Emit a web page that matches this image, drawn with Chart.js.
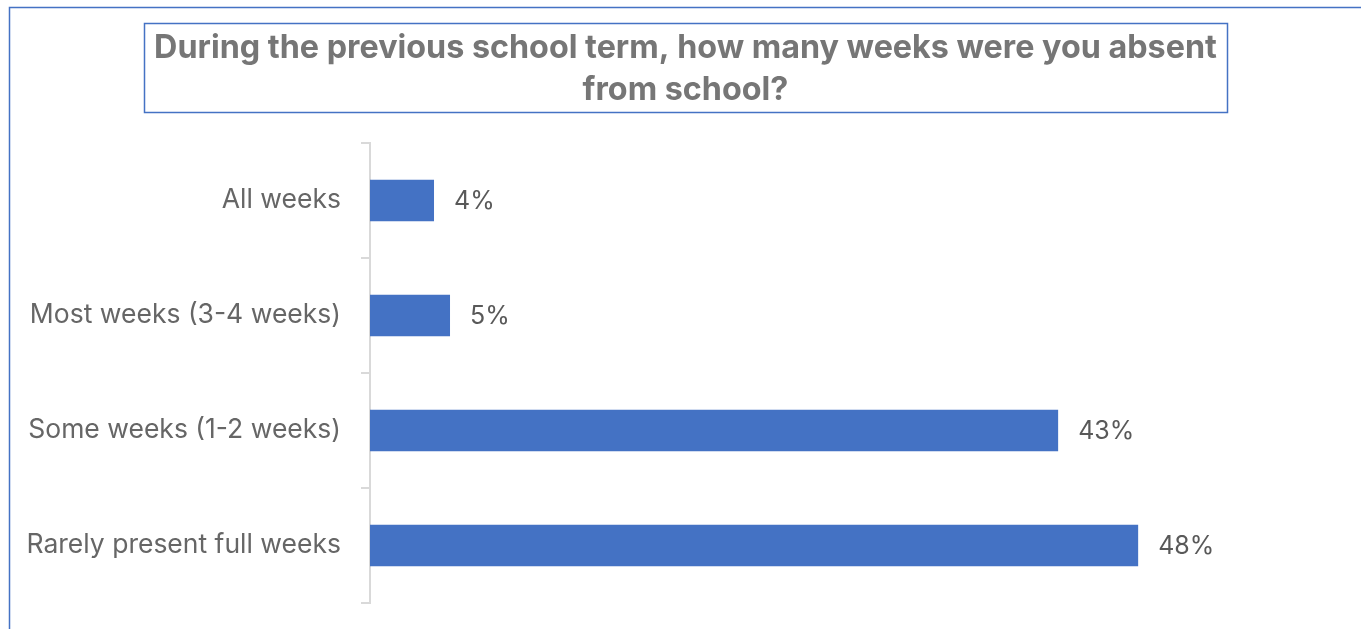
<!DOCTYPE html>
<html>
<head>
<meta charset="utf-8">
<title>Weeks absent from school</title>
<script src="https://cdn.jsdelivr.net/npm/chart.js@4"></script>
<style>
  html, body { margin: 0; padding: 0; background: #ffffff; }
  #wrap { position: relative; width: 1361px; height: 629px; }
</style>
</head>
<body>
<div id="wrap"><canvas id="absenceChart" width="1361" height="629"></canvas></div>
<script>
// Survey answers, top to bottom
const categories = [
    'All weeks',
    'Most weeks (3-4 weeks)',
    'Some weeks (1-2 weeks)',
    'Rarely present full weeks'
];
const shares = [4, 5, 43, 48];   // percent of respondents
const titleLines = [
    'During the previous school term, how many weeks were you absent',
    'from school?'
];

const BLUE = '#4472C4';
const AXIS_GREY = '#d9d9d9';
const FONT = 'Inter, "Liberation Sans", Arial, sans-serif';

// Frame around the whole chart plus the box around the title
const framePlugin = {
    id: 'frames',
    afterDraw(chart) {
        const ctx = chart.ctx;
        ctx.save();
        ctx.strokeStyle = BLUE;
        ctx.lineWidth = 1.5;
        // outer frame (left and top edges visible)
        ctx.beginPath();
        ctx.moveTo(9.5, chart.height + 5);
        ctx.lineTo(9.5, 7.5);
        ctx.lineTo(chart.width + 5, 7.5);
        ctx.stroke();
        // title box
        ctx.strokeRect(144.5, 23.5, 1083, 89);
        ctx.restore();
    }
};

// Percent labels to the right of each bar
const valueLabels = {
    id: 'valueLabels',
    afterDatasetsDraw(chart) {
        const ctx = chart.ctx;
        const meta = chart.getDatasetMeta(0);
        ctx.save();
        ctx.font = '25px ' + FONT;
        ctx.fillStyle = '#595959';
        ctx.textAlign = 'left';
        ctx.textBaseline = 'middle';
        meta.data.forEach((bar, i) => {
            ctx.fillText(shares[i] + '%', bar.x + 20, bar.y + 1);
        });
        ctx.restore();
    }
};

const chart = new Chart(document.getElementById('absenceChart'), {
    type: 'bar',
    data: {
        labels: categories,
        datasets: [{
            data: shares,
            backgroundColor: BLUE,
            borderWidth: 0,
            barPercentage: 0.36,
            categoryPercentage: 1
        }]
    },
    options: {
        indexAxis: 'y',
        responsive: false,
        animation: false,
        layout: {
            // left - right = 10 keeps the title centred inside its box
            padding: { left: 20, right: 10, top: 0, bottom: 26 }
        },
        plugins: {
            legend: { display: false },
            tooltip: { enabled: false },
            title: {
                display: true,
                text: titleLines,
                color: '#767676',
                font: { family: FONT, size: 32.3, weight: 'bold', lineHeight: '42px' },
                padding: { top: 27, bottom: 32 }
            }
        },
        scales: {
            x: {
                display: false,
                min: 0,
                max: 61.3
            },
            y: {
                grid: {
                    drawOnChartArea: false,
                    tickLength: 9,
                    color: AXIS_GREY,
                    lineWidth: 2
                },
                border: { color: AXIS_GREY, width: 2 },
                ticks: {
                    color: '#666666',
                    font: { family: FONT, size: 26.5 },
                    padding: 20
                },
                afterFit(scale) {
                    scale.width = 350;
                    scale.paddingTop = 0;
                    scale.paddingBottom = 0;
                }
            }
        }
    },
    plugins: [framePlugin, valueLabels]
});
</script>
</body>
</html>
